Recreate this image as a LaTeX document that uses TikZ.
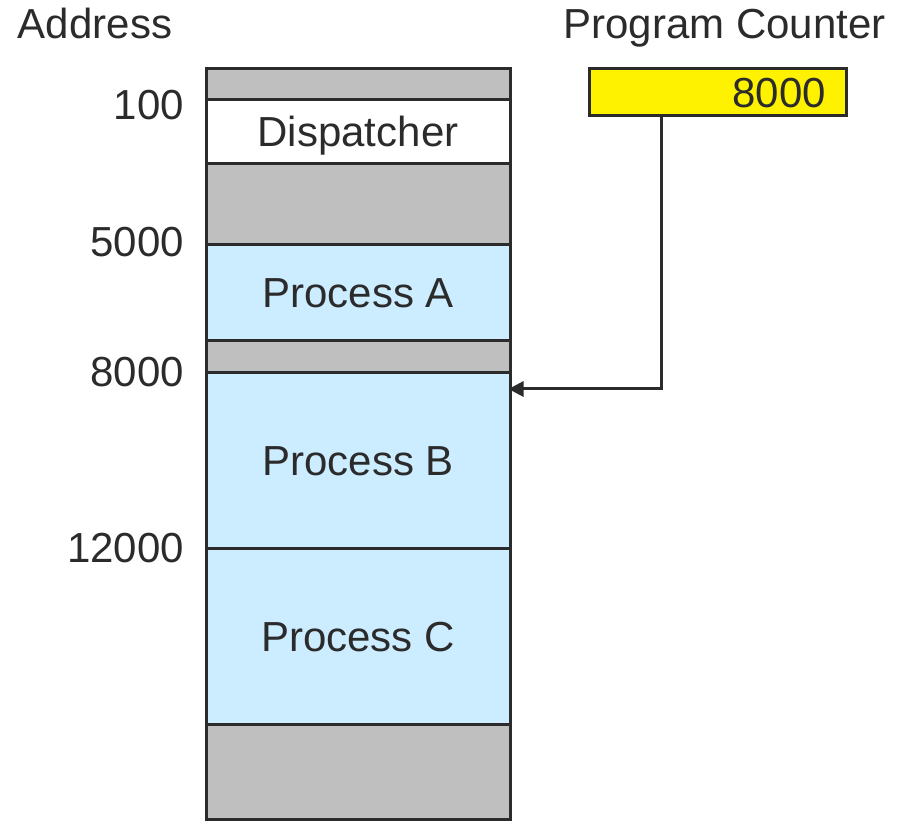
\documentclass[tikz,border=0pt]{standalone}
\usepackage{fontspec}
\setmainfont{Liberation Sans}
\usetikzlibrary{
  arrows.meta,
  positioning
}
\definecolor{memgray}{HTML}{BFBFBF}
\definecolor{memblue}{HTML}{CCECFF}
\definecolor{ink}{HTML}{2B2B2B}

\begin{document}
\begin{tikzpicture}[
  x=1pt, y=-1pt,
  node distance=0pt,
  every node/.style={text=ink, inner sep=0pt, font=\fontsize{42}{50}\selectfont},
  memseg/.style={
    rectangle,
    draw=ink,
    line width=3pt,
    minimum width=304pt,
    outer sep=0pt,
    text height=30pt, text depth=0pt
  },
  freeseg/.style={memseg, fill=memgray},
  procseg/.style={memseg, fill=memblue},
  dispseg/.style={memseg, fill=white}
]
\useasboundingbox (0,0) rectangle (906,821);

% memory column
\node [freeseg, minimum height=31pt] (free-top) at (358,84.5) {};
\node [dispseg, minimum height=64pt, below=of free-top] (dispatcher) {Dispatcher};
\node [freeseg, minimum height=81pt, below=of dispatcher] (free-a) {};
\node [procseg, minimum height=96pt, below=of free-a] (proc-a) {Process A};
\node [freeseg, minimum height=32pt, below=of proc-a] (free-b) {};
\node [procseg, minimum height=175pt, below=of free-b] (proc-b) {Process B};
\node [procseg, minimum height=176pt, below=of proc-b] (proc-c) {Process C};
\node [freeseg, minimum height=95pt, below=of proc-c] (free-bottom) {};

% addresses
\node [anchor=base] (address-title) at (95,39) {Address};
\node [anchor=base east] (addr-100) at (184,120) {100};
\node [anchor=base east] (addr-5000) at (184,257) {5000};
\node [anchor=base east] (addr-8000) at (184,386) {8000};
\node [anchor=base east] (addr-12000) at (184,562) {12000};

% program counter
\node [anchor=base] (pc-title) at (724.5,39) {Program Counter};
\node [
  rectangle, draw=ink, line width=3pt, fill=yellow,
  minimum width=257pt, minimum height=47pt,
  text width=217pt, align=right,
  text height=30pt, text depth=0pt
] (pc) at (717.5,92.5) {8000};

\coordinate (tap) at (661.5,389);
\draw [ink, line width=3pt, -{Triangle[length=15pt,width=15pt]}, shorten >=-1.5pt]
  (pc.south -| tap) |- (proc-b.east |- tap);

\end{tikzpicture}
\end{document}
